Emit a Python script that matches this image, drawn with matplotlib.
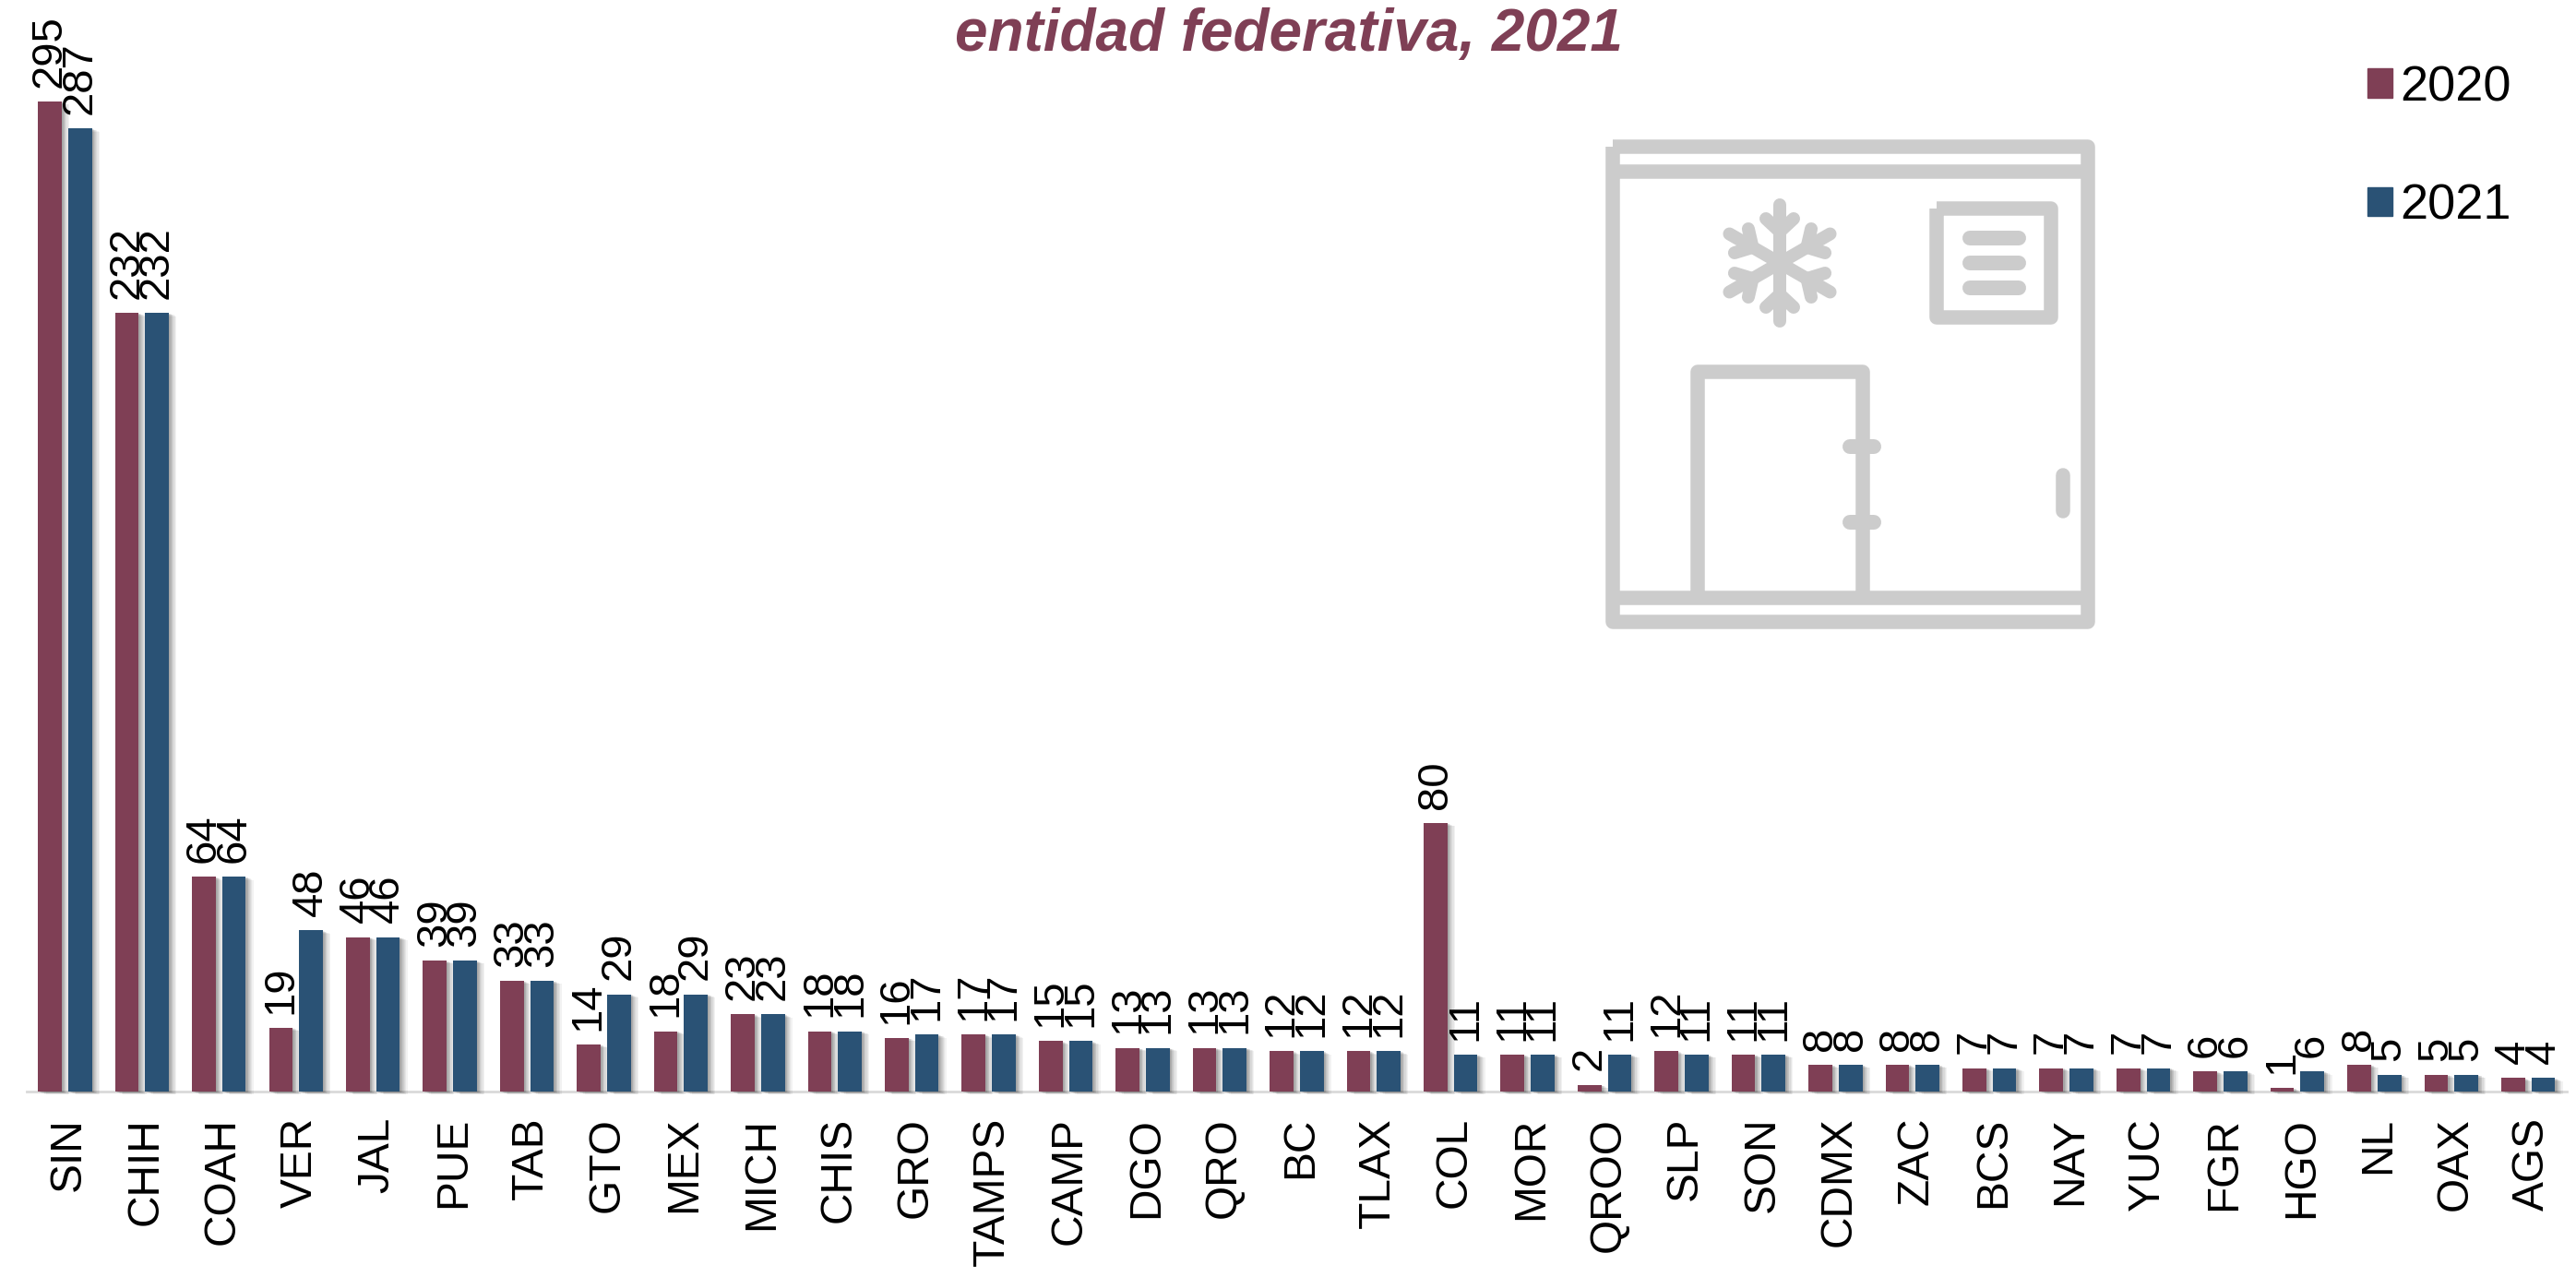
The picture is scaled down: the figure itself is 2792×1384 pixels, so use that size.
import matplotlib
matplotlib.use('Agg')
import matplotlib.pyplot as plt
import matplotlib.patheffects as pe
from matplotlib.patches import Rectangle
from matplotlib.transforms import ScaledTranslation
import numpy as np

plt.rcParams['font.family'] = ['Liberation Sans', 'DejaVu Sans']

estados = ['SIN', 'CHIH', 'COAH', 'VER', 'JAL', 'PUE', 'TAB', 'GTO', 'MEX', 'MICH', 'CHIS',
           'GRO', 'TAMPS', 'CAMP', 'DGO', 'QRO', 'BC', 'TLAX', 'COL', 'MOR', 'QROO', 'SLP',
           'SON', 'CDMX', 'ZAC', 'BCS', 'NAY', 'YUC', 'FGR', 'HGO', 'NL', 'OAX', 'AGS']
v2020 = [295, 232, 64, 19, 46, 39, 33, 14, 18, 23, 18, 16, 17, 15, 13, 13, 12, 12, 80, 11, 2,
         12, 11, 8, 8, 7, 7, 7, 6, 1, 8, 5, 4]
v2021 = [287, 232, 64, 48, 46, 39, 33, 29, 29, 23, 18, 17, 17, 15, 13, 13, 12, 12, 11, 11, 11,
         11, 11, 8, 8, 7, 7, 7, 6, 6, 5, 5, 4]
titulo = 'entidad federativa, 2021'

W, H = 2792, 1384
GUINDA = '#7F3F55'
AZUL = '#2A5275'
GRIS = '#CCCCCC'

fig = plt.figure(figsize=(W / 100, H / 100), dpi=100, facecolor='white')

# icono y textos sueltos en pixeles de la imagen
fondo = fig.add_axes([0, 0, 1, 1])
fondo.set_xlim(0, W)
fondo.set_ylim(H, 0)
fondo.axis('off')


def trazo(xs, ys, lw=15.5, cap='butt', join='round'):
    fondo.plot(xs, ys, color=GRIS, lw=lw * 0.72, solid_capstyle=cap, solid_joinstyle=join)


# refrigerador
trazo([1748, 2263, 2263, 1748, 1748], [159, 159, 674, 674, 159])
trazo([1748, 2263], [185.5, 185.5])
trazo([1748, 2263], [648, 648])
# ventanita
trazo([2099, 2223, 2223, 2099, 2099], [226, 226, 343.5, 343.5, 226])
for y in [258, 285, 312]:
    trazo([2135, 2188], [y, y], lw=16, cap='round')
# puerta
trazo([1840, 1840, 2018.5, 2018.5], [648, 403, 403, 648])
for y in [484, 566]:
    trazo([2005, 2031], [y, y], lw=16, cap='round')
trazo([2236, 2236], [515, 554], cap='round')
# copo de nieve
cx, cy = 1929, 285
for ang in np.deg2rad([0, 60, 120, 180, 240, 300]):
    c, s = np.cos(ang), np.sin(ang)
    def rot(x, y):
        return cx + x * c - y * s, cy + x * s + y * c
    for a, b in [((0, 0), (0, -63)), ((0, -34), (-15, -48)), ((0, -34), (15, -48))]:
        p0, p1 = rot(*a), rot(*b)
        trazo([p0[0], p1[0]], [p0[1], p1[1]], lw=14, cap='round')

# barras
x0, x1 = 28.7, 2782
y_base = 1183
px_unidad = 3.637
ax = fig.add_axes([x0 / W, 1 - y_base / H, (x1 - x0) / W, y_base / H])
ax.patch.set_alpha(0)
ax.set_xlim(-0.5, 32.5)
ax.set_ylim(0, y_base / px_unidad)

x = np.arange(len(estados))
ancho = 0.308
sep = 0.196
b1 = ax.bar(x - sep, v2020, ancho, color=GUINDA, label='2020', clip_on=False, zorder=3)
b2 = ax.bar(x + sep, v2021, ancho, color=AZUL, label='2021', clip_on=False, zorder=3)

# sombra difusa hacia la derecha
sombra = [pe.SimplePatchShadow(offset=(d, -d * 0.4), shadow_rgbFace='#000000', alpha=0.05)
          for d in [6, 5, 4, 3, 2.5, 2, 1.5, 1]] + [pe.Normal()]
for b in list(b1) + list(b2):
    b.set_path_effects(sombra)

for b in [b1, b2]:
    etiquetas = ax.bar_label(b, rotation=90, fontsize=34, padding=11, color='black', zorder=5)
    for t in etiquetas:
        t.set_ha('left')
        t.xyann = (-16, t.xyann[1])

for lado in ['top', 'right', 'left']:
    ax.spines[lado].set_visible(False)
ax.spines['bottom'].set_color('#D9D9D9')
ax.spines['bottom'].set_linewidth(2)
ax.set_yticks([])
ax.set_xticks(x)
ax.set_xticklabels(estados, rotation=90, fontsize=34.5)
ax.tick_params(axis='x', length=0, pad=20)
# el texto girado queda algo a la izquierda de la categoria
corrimiento = ScaledTranslation(3 / 72, 0, fig.dpi_scale_trans)
for t in ax.get_xticklabels():
    t.set_transform(t.get_transform() + corrimiento)

fig.text(1396.5 / W, 1 - 55 / H, titulo, color=GUINDA, fontsize=46, fontweight='bold',
         fontstyle='italic', ha='center', va='baseline')

h1 = Rectangle((0, 0), 1, 1, color=GUINDA)
h2 = Rectangle((0, 0), 1, 1, color=AZUL)
fig.legend([h1, h2], ['2020', '2021'], loc='upper left', bbox_to_anchor=(2566 / W, 1 - 70 / H),
           borderaxespad=0, borderpad=0, frameon=False, fontsize=39, handlelength=0.5,
           handleheight=0.52, handletextpad=0.16, labelspacing=1.45)

fig.savefig('out.png', dpi=100)
